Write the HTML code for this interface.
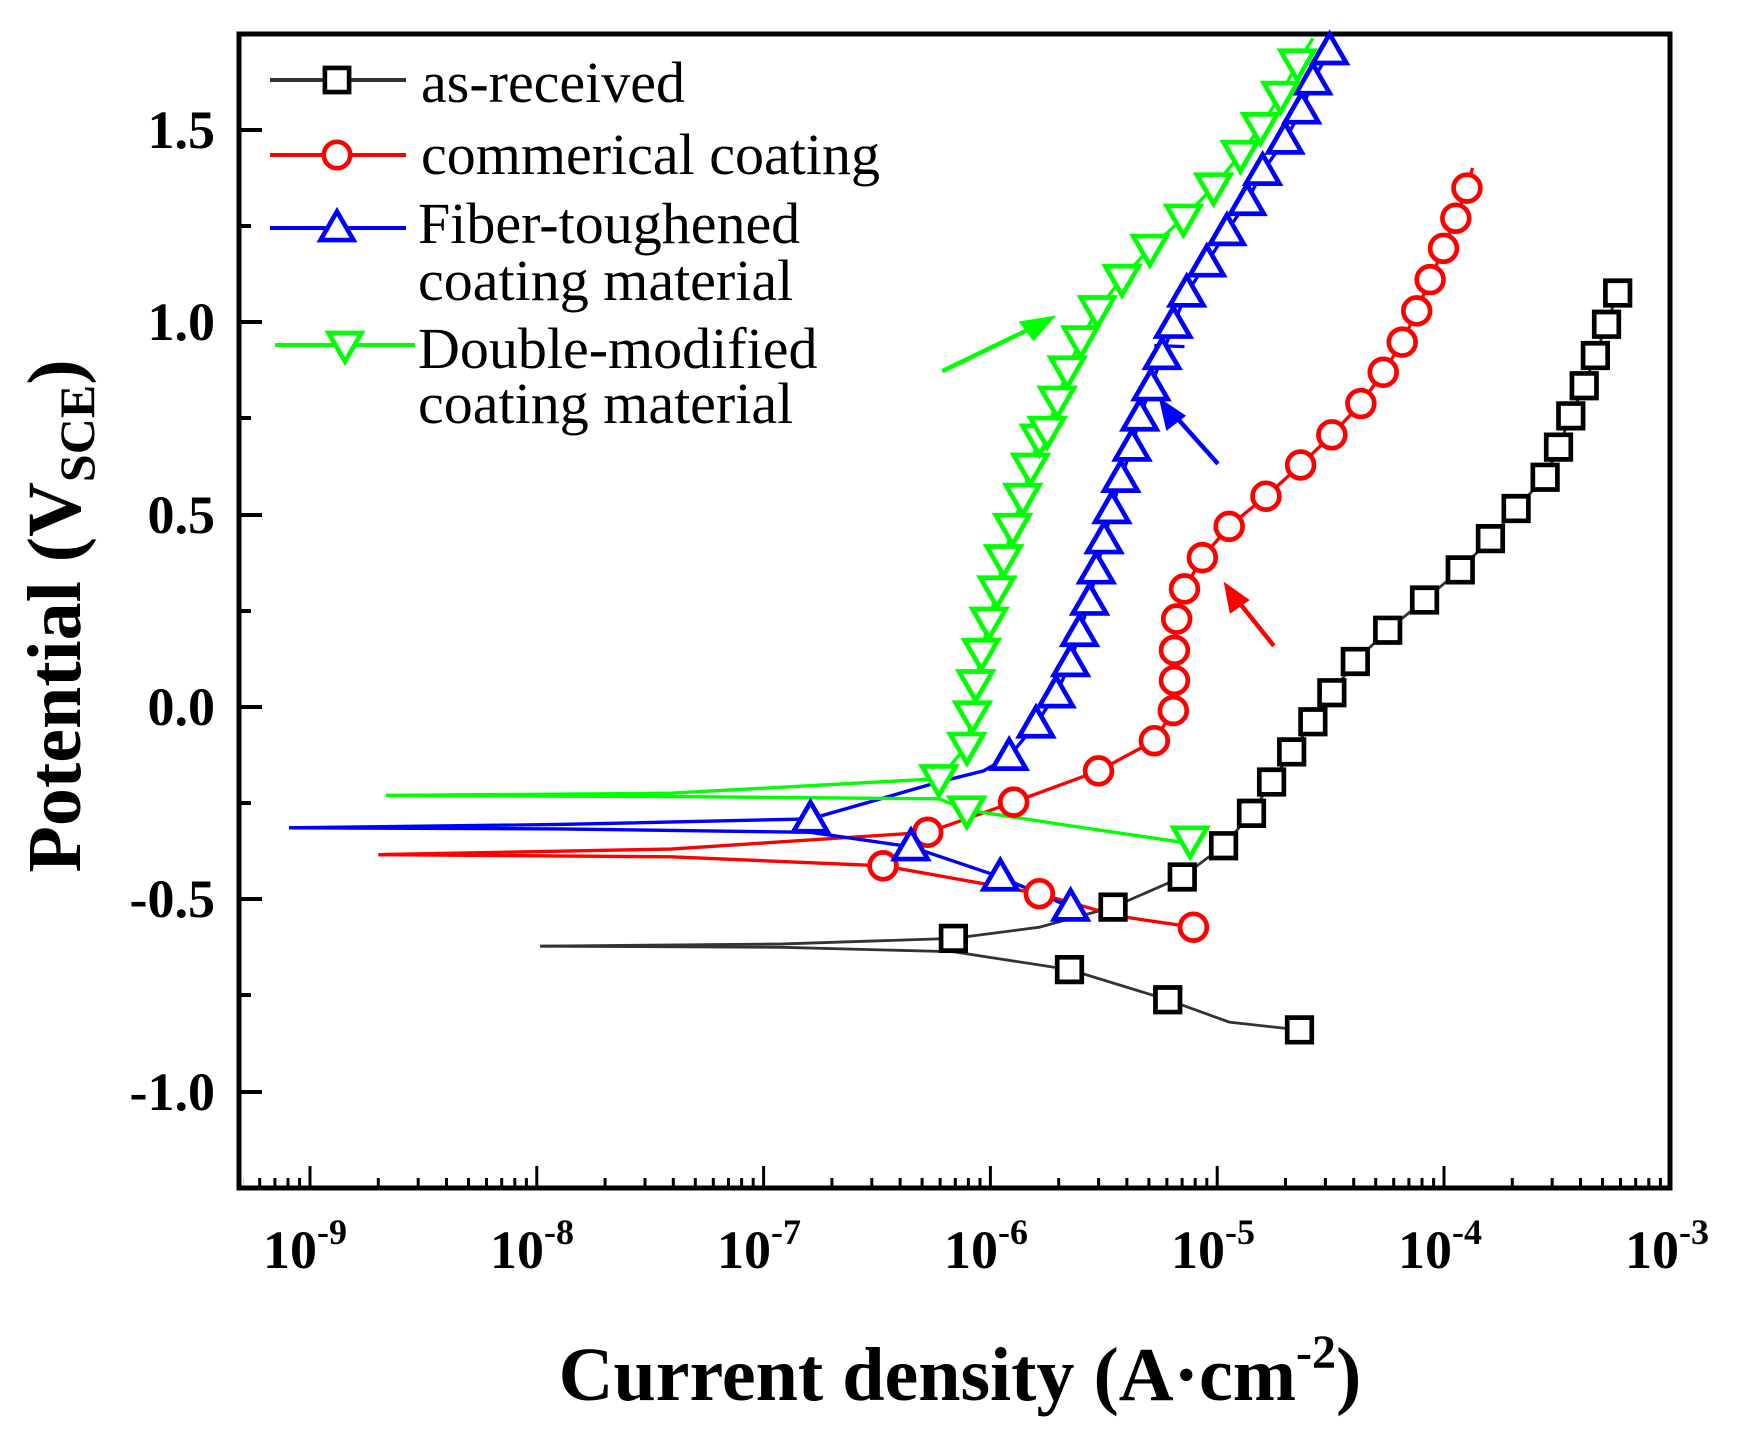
<!DOCTYPE html>
<html><head><meta charset="utf-8"><style>body{margin:0;background:#fff}svg{display:block}</style></head><body>
<svg width="1752" height="1433" viewBox="0 0 1752 1433" xmlns="http://www.w3.org/2000/svg">
<defs>
<path id="sq" d="M-11,-11H11V11H-11Z" fill="#fff" stroke="#000" stroke-width="4.2"/>
<circle id="ci" r="12" fill="#fff" stroke="#ff0000" stroke-width="4.2"/>
<path id="tu" d="M0,-15L15,11H-15Z" fill="#fff" stroke="#0000ff" stroke-width="4.2"/>
<path id="td" d="M0,15L15,-11H-15Z" fill="#fff" stroke="#00ff00" stroke-width="4.2"/>
<g id="dec" stroke="#000" stroke-width="3">
<line x1="0" y1="1188" x2="0" y2="1166"/>
<line x1="68.3" y1="1188" x2="68.3" y2="1178"/><line x1="108.2" y1="1188" x2="108.2" y2="1178"/><line x1="136.5" y1="1188" x2="136.5" y2="1178"/><line x1="158.5" y1="1188" x2="158.5" y2="1178"/><line x1="176.5" y1="1188" x2="176.5" y2="1178"/><line x1="191.7" y1="1188" x2="191.7" y2="1178"/><line x1="204.8" y1="1188" x2="204.8" y2="1178"/><line x1="216.4" y1="1188" x2="216.4" y2="1178"/>
</g>
<clipPath id="ax"><rect x="243" y="30" width="1424" height="1160"/></clipPath>
</defs>
<g clip-path="url(#ax)">
<use href="#dec" x="83.2"/><use href="#dec" x="310"/><use href="#dec" x="536.8"/><use href="#dec" x="763.6"/><use href="#dec" x="990.4"/><use href="#dec" x="1217.2"/><use href="#dec" x="1444"/>
</g>
<rect x="239" y="34" width="1431" height="1154" fill="none" stroke="#000" stroke-width="5"/>
<g stroke="#000" stroke-width="4">
<line x1="239" y1="130" x2="262" y2="130"/><line x1="239" y1="322" x2="262" y2="322"/><line x1="239" y1="515" x2="262" y2="515"/><line x1="239" y1="707" x2="262" y2="707"/><line x1="239" y1="899" x2="262" y2="899"/><line x1="239" y1="1092" x2="262" y2="1092"/>
<line x1="239" y1="226" x2="251" y2="226"/><line x1="239" y1="418" x2="251" y2="418"/><line x1="239" y1="611" x2="251" y2="611"/><line x1="239" y1="803" x2="251" y2="803"/><line x1="239" y1="995" x2="251" y2="995"/>
</g>
<g font-family="Liberation Serif, serif" font-weight="bold" font-size="54" text-anchor="end" fill="#000">
<text x="215" y="148">1.5</text><text x="215" y="340">1.0</text><text x="215" y="533">0.5</text><text x="215" y="725">0.0</text><text x="215" y="917">-0.5</text><text x="215" y="1110">-1.0</text>
</g>
<g font-family="Liberation Serif, serif" font-weight="bold" font-size="54" text-anchor="middle" fill="#000">
<text x="305" y="1268">10<tspan font-size="36" dy="-24">-9</tspan></text>
<text x="532" y="1268">10<tspan font-size="36" dy="-24">-8</tspan></text>
<text x="759" y="1268">10<tspan font-size="36" dy="-24">-7</tspan></text>
<text x="986" y="1268">10<tspan font-size="36" dy="-24">-6</tspan></text>
<text x="1213" y="1268">10<tspan font-size="36" dy="-24">-5</tspan></text>
<text x="1440" y="1268">10<tspan font-size="36" dy="-24">-4</tspan></text>
<text x="1667" y="1268">10<tspan font-size="36" dy="-24">-3</tspan></text>
</g>
<text x="960" y="1400" font-family="Liberation Serif, serif" font-weight="bold" font-size="76" text-anchor="middle">Current density (A·cm<tspan font-size="48" dy="-32">-2</tspan><tspan dy="32">)</tspan></text>
<text transform="translate(80,616) rotate(-90)" font-family="Liberation Serif, serif" font-weight="bold" font-size="76" text-anchor="middle">Potential (V<tspan font-size="50" dy="14">SCE</tspan><tspan dy="-14">)</tspan></text>
<g stroke-width="4" fill="none">
<line x1="270" y1="80" x2="406" y2="80" stroke="#333"/>
<line x1="270" y1="155" x2="406" y2="155" stroke="#ff0000"/>
<line x1="270" y1="228" x2="406" y2="228" stroke="#0000ff"/>
<line x1="275" y1="345" x2="415" y2="345" stroke="#00ff00"/>
</g>
<use href="#sq" transform="translate(337,80) scale(1.1)"/>
<use href="#ci" transform="translate(337,155) scale(1.1)"/>
<use href="#tu" transform="translate(337,228) scale(1.1)"/>
<use href="#td" transform="translate(345,345) scale(1.1)"/>
<g font-family="Liberation Serif, serif" font-size="58" fill="#000">
<text x="421" y="102">as-received</text>
<text x="421" y="174">commerical coating</text>
<text x="418" y="243">Fiber-toughened</text>
<text x="418" y="300">coating material</text>
<text x="418" y="368">Double-modified</text>
<text x="418" y="423">coating material</text>
</g>
<g transform="translate(1,0.5) scale(1.1165)">
<g fill="none" stroke-width="3">
<polyline stroke="#333" stroke-width="2.5" points="483,847 700,848 853,852 957,868 1045,895 1100,915 1163,922"/>
<polyline stroke="#333" stroke-width="2.5" points="483,847 700,845 853,840 930,830 996,812 1058,785 1095,757 1120,728 1138,700 1156,673 1175,646 1192,620 1213,592 1242,564 1275,537 1307,510 1334,482 1357,455 1383,427 1395,400 1406,372 1418,345 1428,318 1438,290 1448,262"/>
<polyline stroke="#ff0000" points="338,765 600,767 790,775 930,800 1000,820 1068,830"/>
<polyline stroke="#ff0000" points="338,765 600,760 830,745 907,718 983,690 1033,663 1050,636 1051,609 1051,582 1053,554 1060,527 1076,499 1100,471 1133,444 1164,416 1192,389 1218,361 1238,333 1255,306 1268,278 1280,250 1292,222 1303,195 1313,168 1318,150"/>
<polyline stroke="#0000ff" points="258,741 500,742 725,745 815,758 895,785 958,812"/>
<polyline stroke="#0000ff" points="258,741 500,738 725,733 840,700 880,690 903,677 927,648 945,621 958,593 966,566 975,538 981,510 988,483 995,456 1003,428 1013,400 1020,373 1030,346 1040,318 1050,290 1062,262 1080,235 1098,207 1116,180 1130,153 1150,125 1165,98 1175,72 1190,45"/>
<polyline stroke="#00ff00" points="345,712 600,713 840,715 865,725 950,738 1065,755"/>
<polyline stroke="#00ff00" points="345,712 600,710 840,697 865,668 870,640 873,612 878,584 885,556 892,528 898,500 906,472 915,445 922,418 930,390 937,385 946,358 955,331 967,304 982,277 1004,249 1029,222 1059,195 1086,167 1110,138 1128,113 1146,85 1161,56 1175,34"/>
<line x1="1033" y1="309" x2="1060" y2="310" stroke="#0000ff"/>
</g>
<g>
<use href="#sq" x="853" y="840"/><use href="#sq" x="957" y="868"/><use href="#sq" x="1045" y="895"/><use href="#sq" x="1163" y="922"/><use href="#sq" x="996" y="812"/><use href="#sq" x="1058" y="785"/><use href="#sq" x="1095" y="757"/><use href="#sq" x="1120" y="728"/><use href="#sq" x="1138" y="700"/><use href="#sq" x="1156" y="673"/><use href="#sq" x="1175" y="646"/><use href="#sq" x="1192" y="620"/><use href="#sq" x="1213" y="592"/><use href="#sq" x="1242" y="564"/><use href="#sq" x="1275" y="537"/><use href="#sq" x="1307" y="510"/><use href="#sq" x="1334" y="482"/><use href="#sq" x="1357" y="455"/><use href="#sq" x="1383" y="427"/><use href="#sq" x="1395" y="400"/><use href="#sq" x="1406" y="372"/><use href="#sq" x="1418" y="345"/><use href="#sq" x="1428" y="318"/><use href="#sq" x="1438" y="290"/><use href="#sq" x="1448" y="262"/>
<use href="#ci" x="790" y="775"/><use href="#ci" x="930" y="800"/><use href="#ci" x="1068" y="830"/><use href="#ci" x="830" y="745"/><use href="#ci" x="907" y="718"/><use href="#ci" x="983" y="690"/><use href="#ci" x="1033" y="663"/><use href="#ci" x="1050" y="636"/><use href="#ci" x="1051" y="609"/><use href="#ci" x="1051" y="582"/><use href="#ci" x="1053" y="554"/><use href="#ci" x="1060" y="527"/><use href="#ci" x="1076" y="499"/><use href="#ci" x="1100" y="471"/><use href="#ci" x="1133" y="444"/><use href="#ci" x="1164" y="416"/><use href="#ci" x="1192" y="389"/><use href="#ci" x="1218" y="361"/><use href="#ci" x="1238" y="333"/><use href="#ci" x="1255" y="306"/><use href="#ci" x="1268" y="278"/><use href="#ci" x="1280" y="250"/><use href="#ci" x="1292" y="222"/><use href="#ci" x="1303" y="195"/><use href="#ci" x="1313" y="168"/>
<use href="#tu" x="815" y="758"/><use href="#tu" x="895" y="785"/><use href="#tu" x="958" y="812"/><use href="#tu" x="725" y="733"/><use href="#tu" x="903" y="677"/><use href="#tu" x="927" y="648"/><use href="#tu" x="945" y="621"/><use href="#tu" x="958" y="593"/><use href="#tu" x="966" y="566"/><use href="#tu" x="975" y="538"/><use href="#tu" x="981" y="510"/><use href="#tu" x="988" y="483"/><use href="#tu" x="995" y="456"/><use href="#tu" x="1003" y="428"/><use href="#tu" x="1013" y="400"/><use href="#tu" x="1020" y="373"/><use href="#tu" x="1030" y="346"/><use href="#tu" x="1040" y="318"/><use href="#tu" x="1050" y="290"/><use href="#tu" x="1062" y="262"/><use href="#tu" x="1080" y="235"/><use href="#tu" x="1098" y="207"/><use href="#tu" x="1116" y="180"/><use href="#tu" x="1130" y="153"/><use href="#tu" x="1150" y="125"/><use href="#tu" x="1165" y="98"/><use href="#tu" x="1175" y="72"/><use href="#tu" x="1190" y="45"/>
<use href="#td" x="865" y="725"/><use href="#td" x="1065" y="752"/><use href="#td" x="840" y="697"/><use href="#td" x="865" y="668"/><use href="#td" x="870" y="640"/><use href="#td" x="873" y="612"/><use href="#td" x="878" y="584"/><use href="#td" x="885" y="556"/><use href="#td" x="892" y="528"/><use href="#td" x="898" y="500"/><use href="#td" x="906" y="472"/><use href="#td" x="915" y="445"/><use href="#td" x="922" y="418"/><use href="#td" x="930" y="392"/><use href="#td" x="937" y="385"/><use href="#td" x="946" y="358"/><use href="#td" x="955" y="331"/><use href="#td" x="967" y="304"/><use href="#td" x="982" y="277"/><use href="#td" x="1004" y="249"/><use href="#td" x="1029" y="222"/><use href="#td" x="1059" y="195"/><use href="#td" x="1086" y="167"/><use href="#td" x="1110" y="138"/><use href="#td" x="1128" y="113"/><use href="#td" x="1146" y="85"/><use href="#td" x="1161" y="56"/>
</g>
<g stroke-width="4" fill="none">
<line x1="843" y1="332" x2="930" y2="290" stroke="#00ff00"/><path d="M940,285 L915,289 L925,302Z" fill="#00ff00" stroke="#00ff00"/>
<line x1="1090" y1="415" x2="1048" y2="368" stroke="#0000ff"/><path d="M1040,360 L1045,382 L1058,372Z" fill="#0000ff" stroke="#0000ff"/>
<line x1="1140" y1="578" x2="1104" y2="533" stroke="#ff0000"/><path d="M1098,525 L1102,546 L1115,537Z" fill="#ff0000" stroke="#ff0000"/>
</g>
</g>
</svg>
</body></html>
